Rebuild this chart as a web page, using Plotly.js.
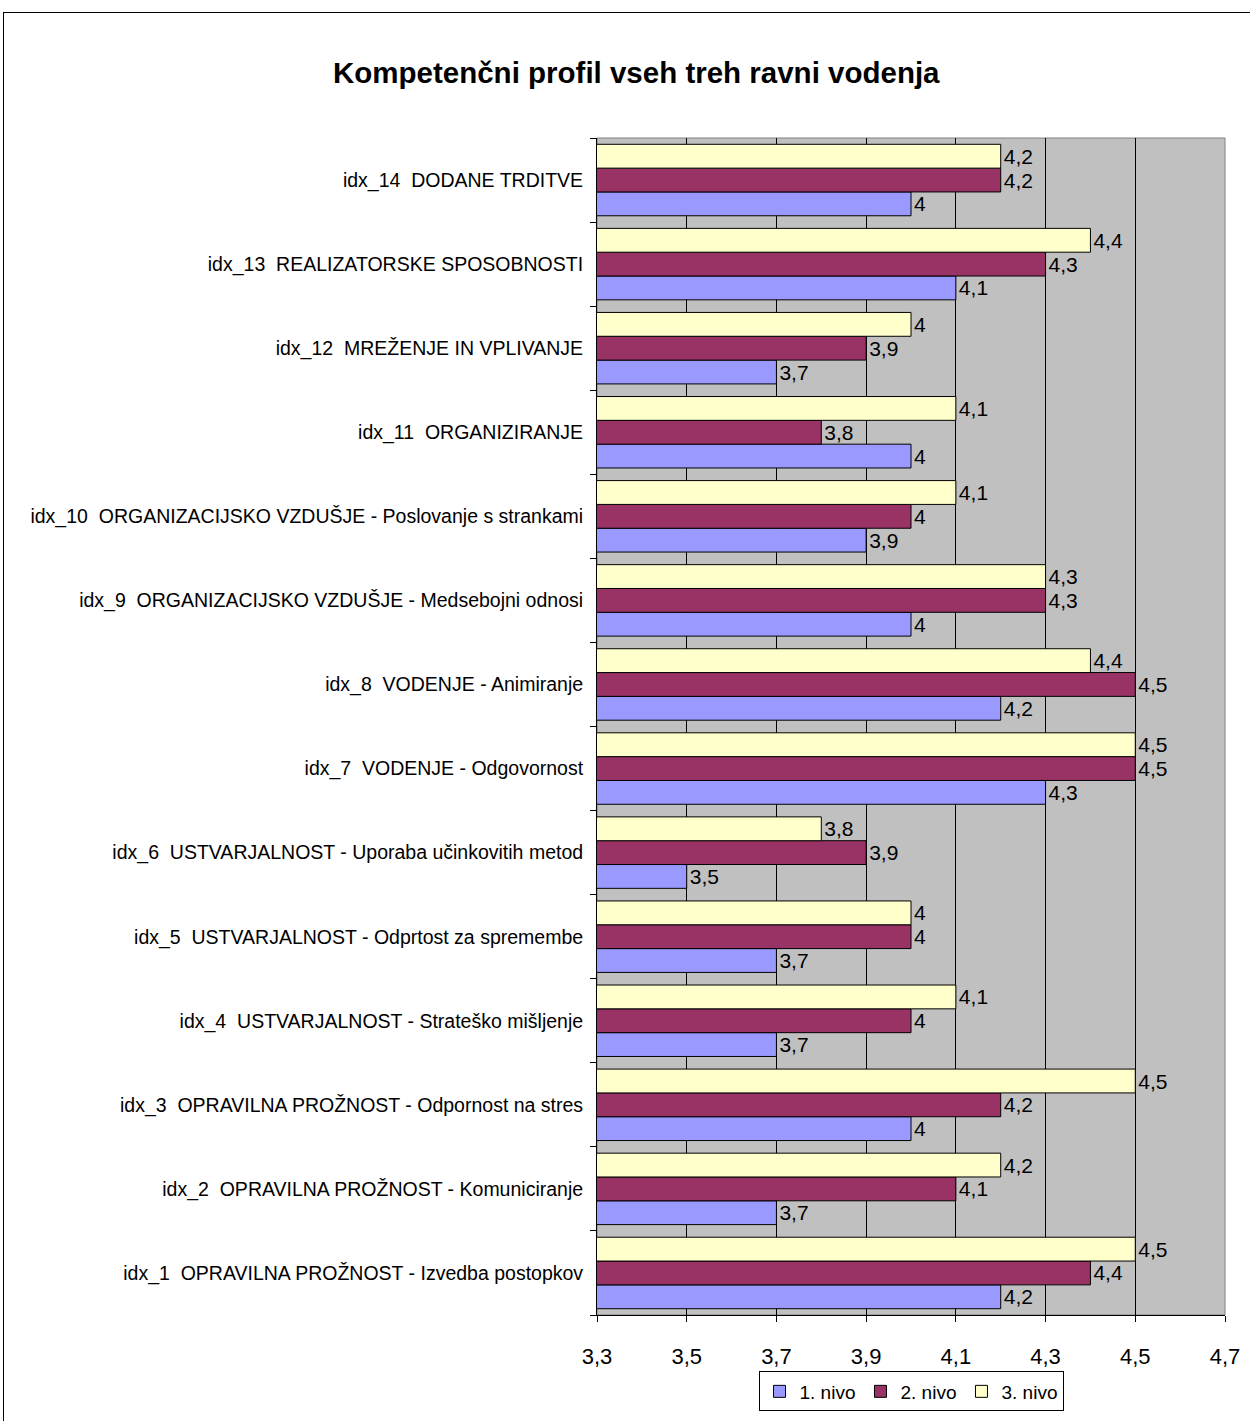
<!DOCTYPE html>
<html>
<head>
<meta charset="utf-8">
<script src="https://cdn.plot.ly/plotly-3.0.1.min.js"></script>
<style>
html,body{margin:0;padding:0;background:#fff;overflow:hidden;}
#frame{position:absolute;left:3px;top:12px;width:1300px;height:1500px;border:1px solid #000;pointer-events:none;}
#chart{position:absolute;left:0;top:0;width:1250px;height:1421px;}
</style>
</head>
<body>
<div id="chart"></div>
<div id="frame"></div>
<script>
const categories = [
  "idx_1 \u00a0OPRAVILNA PROŽNOST - Izvedba postopkov",
  "idx_2 \u00a0OPRAVILNA PROŽNOST - Komuniciranje",
  "idx_3 \u00a0OPRAVILNA PROŽNOST - Odpornost na stres",
  "idx_4 \u00a0USTVARJALNOST - Strateško mišljenje",
  "idx_5 \u00a0USTVARJALNOST - Odprtost za spremembe",
  "idx_6 \u00a0USTVARJALNOST - Uporaba učinkovitih metod",
  "idx_7 \u00a0VODENJE - Odgovornost",
  "idx_8 \u00a0VODENJE - Animiranje",
  "idx_9 \u00a0ORGANIZACIJSKO VZDUŠJE - Medsebojni odnosi",
  "idx_10 \u00a0ORGANIZACIJSKO VZDUŠJE - Poslovanje s strankami",
  "idx_11 \u00a0ORGANIZIRANJE",
  "idx_12 \u00a0MREŽENJE IN VPLIVANJE",
  "idx_13 \u00a0REALIZATORSKE SPOSOBNOSTI",
  "idx_14 \u00a0DODANE TRDITVE"
];
const nivo1 = [4.2, 3.7, 4.0, 3.7, 3.7, 3.5, 4.3, 4.2, 4.0, 3.9, 4.0, 3.7, 4.1, 4.0];
const nivo2 = [4.4, 4.1, 4.2, 4.0, 4.0, 3.9, 4.5, 4.5, 4.3, 4.0, 3.8, 3.9, 4.3, 4.2];
const nivo3 = [4.5, 4.2, 4.5, 4.1, 4.0, 3.8, 4.5, 4.4, 4.3, 4.1, 4.1, 4.0, 4.4, 4.2];
const seriesNames = ["1. nivo", "2. nivo", "3. nivo"];
const seriesColors = ["#9999FF", "#993366", "#FFFFCC"];
const xTickVals = [3.3, 3.5, 3.7, 3.9, 4.1, 4.3, 4.5, 4.7];
const xTickText = ["3,3", "3,5", "3,7", "3,9", "4,1", "4,3", "4,5", "4,7"];

const fmt = v => String(v).replace('.', ',');
const data = [nivo1, nivo2, nivo3].map((vals, i) => ({
  type: 'bar',
  orientation: 'h',
  name: seriesNames[i],
  y: categories,
  x: vals,
  text: vals.map(fmt),
  textposition: 'outside',
  constraintext: 'none',
  cliponaxis: false,
  textfont: {family: 'Arial, Liberation Sans, sans-serif', size: 21, color: '#000'},
  marker: {color: seriesColors[i], line: {color: '#000', width: 1}},
  hoverinfo: 'x+y'
}));

const layout = {
  width: 1250,
  height: 1421,
  paper_bgcolor: 'rgba(0,0,0,0)',
  plot_bgcolor: '#C0C0C0',
  font: {family: 'Arial, Liberation Sans, sans-serif', color: '#000'},
  margin: {l: 597, r: 25, t: 138, b: 106, pad: 0, autoexpand: false},
  barmode: 'group',
  bargap: 0.15,
  bargroupgap: 0,
  title: {
    text: '<b>Kompetenčni profil vseh treh ravni vodenja</b>',
    font: {size: 29.5, family: 'Arial, Liberation Sans, sans-serif', color: '#000'},
    x: 0.509, xanchor: 'center', xref: 'container',
    y: 1 - 73/1421, yanchor: 'middle', yref: 'container'
  },
  xaxis: {
    range: [3.3, 4.7],
    tickmode: 'array',
    tickvals: xTickVals,
    ticktext: xTickText,
    showgrid: true,
    gridcolor: '#000',
    gridwidth: 1,
    zeroline: false,
    showline: true,
    linecolor: '#000',
    linewidth: 1,
    ticks: 'outside',
    ticklen: 6,
    tickcolor: '#000',
    tickfont: {size: 22},
    ticklabelstandoff: 16,
    automargin: false,
    fixedrange: true
  },
  yaxis: {
    type: 'category',
    showgrid: false,
    zeroline: false,
    showline: true,
    linecolor: '#000',
    linewidth: 1,
    ticks: 'outside',
    tickson: 'boundaries',
    ticklen: 6,
    tickcolor: '#000',
    tickfont: {size: 19.5},
    ticklabelstandoff: 9,
    automargin: false,
    fixedrange: true
  },
  showlegend: true,
  legend: {
    orientation: 'h',
    x: 0.5, xanchor: 'center',
    y: -0.048, yanchor: 'top',
    bordercolor: '#000',
    borderwidth: 1,
    bgcolor: '#fff',
    font: {size: 19},
    traceorder: 'normal',
    itemwidth: 30,
    tracegroupgap: 0
  },
  shapes: [{
    type: 'rect', xref: 'paper', yref: 'paper',
    x0: 0, x1: 1, y0: 0, y1: 1,
    line: {color: '#808080', width: 1},
    layer: 'below'
  }]
};

Plotly.newPlot('chart', data, layout, {displayModeBar: false, staticPlot: true});
</script>
</body>
</html>
